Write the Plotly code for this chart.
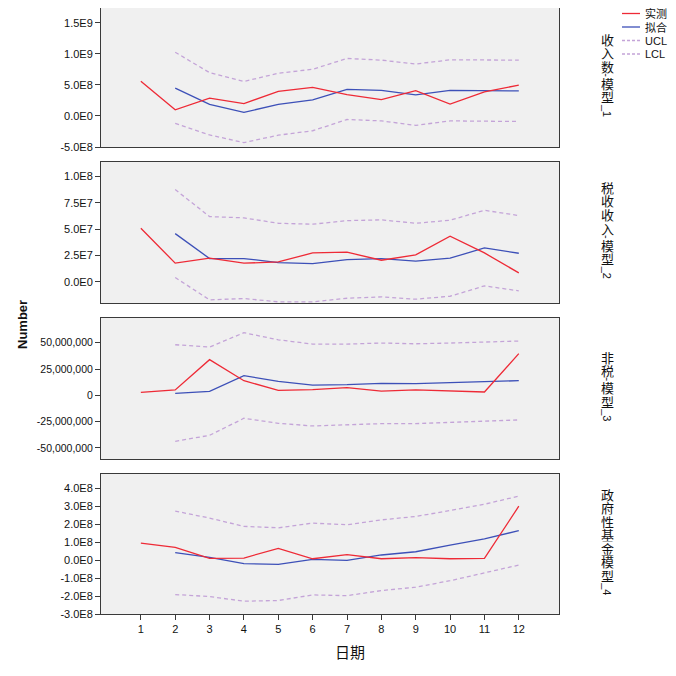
import plotly.graph_objects as go

# ---------------- data ----------------
dates = [1, 2, 3, 4, 5, 6, 7, 8, 9, 10, 11, 12]
dates_fit = [2, 3, 4, 5, 6, 7, 8, 9, 10, 11, 12]

m1_obs = [5.6e8, 1.0e8, 2.86e8, 2.0e8, 3.97e8, 4.6e8, 3.44e8, 2.65e8, 4.08e8, 1.9e8, 3.87e8, 4.98e8]
m1_fit = [4.5e8, 1.86e8, 0.59e8, 1.86e8, 2.6e8, 4.29e8, 4.13e8, 3.4e8, 4.13e8, 4.13e8, 4.03e8]
m1_ucl = [1.027e9, 6.98e8, 5.56e8, 6.89e8, 7.52e8, 9.27e8, 9.0e8, 8.37e8, 9.05e8, 9.05e8, 9.0e8]
m1_lcl = [-1.2e8, -3.06e8, -4.29e8, -3.1e8, -2.38e8, -0.57e8, -0.79e8, -1.52e8, -0.79e8, -0.79e8, -0.89e8]

m2_obs = [5.08e7, 1.77e7, 2.24e7, 1.77e7, 1.89e7, 2.74e7, 2.81e7, 2.05e7, 2.56e7, 4.32e7, 2.74e7, 0.85e7]
m2_fit = [4.57e7, 2.21e7, 2.21e7, 1.83e7, 1.73e7, 2.11e7, 2.21e7, 1.96e7, 2.24e7, 3.22e7, 2.71e7]
m2_ucl = [8.74e7, 6.18e7, 6.06e7, 5.55e7, 5.46e7, 5.8e7, 5.87e7, 5.55e7, 5.84e7, 6.78e7, 6.28e7]
m2_lcl = [0.41e7, -1.7e7, -1.58e7, -1.89e7, -1.89e7, -1.55e7, -1.42e7, -1.64e7, -1.36e7, -0.38e7, -0.85e7]

m3_obs = [2.85e6, 5.1e6, 3.39e7, 1.39e7, 4.7e6, 5.4e6, 7.3e6, 4.1e6, 5.1e6, 4.4e6, 3.2e6, 3.96e7]
m3_fit = [1.9e6, 3.8e6, 1.87e7, 1.33e7, 9.8e6, 1.01e7, 1.14e7, 1.11e7, 1.2e7, 1.27e7, 1.39e7]
m3_ucl = [4.81e7, 4.59e7, 5.95e7, 5.28e7, 4.87e7, 4.87e7, 4.97e7, 4.9e7, 4.97e7, 5.06e7, 5.16e7]
m3_lcl = [-4.37e7, -3.8e7, -2.18e7, -2.66e7, -2.91e7, -2.82e7, -2.69e7, -2.69e7, -2.56e7, -2.47e7, -2.34e7]

m4_obs = [0.94e8, 0.70e8, 0.09e8, 0.11e8, 0.65e8, 0.07e8, 0.3e8, 0.07e8, 0.13e8, 0.07e8, 0.09e8, 2.99e8]
m4_fit = [0.41e8, 0.15e8, -0.2e8, -0.24e8, 0.04e8, -0.02e8, 0.28e8, 0.46e8, 0.83e8, 1.18e8, 1.63e8]
m4_ucl = [2.72e8, 2.33e8, 1.87e8, 1.79e8, 2.05e8, 1.96e8, 2.23e8, 2.42e8, 2.75e8, 3.1e8, 3.55e8]
m4_lcl = [-1.92e8, -2.03e8, -2.29e8, -2.25e8, -1.94e8, -1.98e8, -1.7e8, -1.51e8, -1.15e8, -0.72e8, -0.28e8]

panel_titles = [
    ["收", "入", "数", "-", "模", "型", "_1"],
    ["税", "收", "收", "入", "-", "模", "型", "_2"],
    ["非", "税", "-", "模", "型", "_3"],
    ["政", "府", "性", "基", "金", "模", "型", "_4"],
]

tick_vals = [
    [1.5e9, 1.0e9, 5.0e8, 0.0, -5.0e8],
    [1.0e8, 7.5e7, 5.0e7, 2.5e7, 0.0],
    [5.0e7, 2.5e7, 0.0, -2.5e7, -5.0e7],
    [4.0e8, 3.0e8, 2.0e8, 1.0e8, 0.0, -1.0e8, -2.0e8, -3.0e8],
]
tick_text = [
    ["1.5E9", "1.0E9", "5.0E8", "0.0E0", "-5.0E8"],
    ["1.0E8", "7.5E7", "5.0E7", "2.5E7", "0.0E0"],
    ["50,000,000", "25,000,000", "0", "-25,000,000", "-50,000,000"],
    ["4.0E8", "3.0E8", "2.0E8", "1.0E8", "0.0E0", "-1.0E8", "-2.0E8", "-3.0E8"],
]
y_ranges = [[-5.0e8, 1.74e9], [-2.0e7, 1.135e8], [-6.05e7, 7.35e7], [-3.0e8, 4.78e8]]

legend_names = ["实测", "拟合", "UCL", "LCL"]

# ---------------- style ----------------
RED = "#ee2a36"
BLUE = "#3d50b8"
CL = "#c4a4d8"
FRAME = "#3a3a3a"
LATIN = "Liberation Sans, Arial, sans-serif"
CJK = "Noto Sans CJK SC, sans-serif"

# page has an 8px body margin; work in page pixels and convert
OFF = 8
W, H = 668, 668
ML, MT, MB = 101 - OFF, 0, 62
MR = W - (559 - OFF)
PW, PH = W - ML - MR, H - MT - MB

def py(pix):  # page pixel y -> paper y
    return (H - MB - (pix - OFF)) / PH

def px(pix):  # page pixel x -> paper x
    return (pix - OFF - ML) / PW

panel_pix = [(OFF, 147), (162, 303), (318, 459), (474, 614)]
title_top = [32.5, 181.5, 0, 491]

series = [
    (m1_obs, m1_fit, m1_ucl, m1_lcl),
    (m2_obs, m2_fit, m2_ucl, m2_lcl),
    (m3_obs, m3_fit, m3_ucl, m3_lcl),
    (m4_obs, m4_fit, m4_ucl, m4_lcl),
]

fig = go.Figure()
layout = {}
annotations = []
shapes = []

for i, (obs, fit, ucl, lcl) in enumerate(series):
    n = i + 1
    xa = "x" if n == 1 else f"x{n}"
    ya = "y" if n == 1 else f"y{n}"
    common = dict(xaxis=xa, yaxis=ya, mode="lines", showlegend=False, hoverinfo="skip")
    fig.add_trace(go.Scatter(x=dates_fit, y=ucl, line=dict(color=CL, width=1.3, dash="4px,3px"), **common))
    fig.add_trace(go.Scatter(x=dates_fit, y=lcl, line=dict(color=CL, width=1.3, dash="4px,3px"), **common))
    fig.add_trace(go.Scatter(x=dates_fit, y=fit, line=dict(color=BLUE, width=1.3), **common))
    fig.add_trace(go.Scatter(x=dates, y=obs, line=dict(color=RED, width=1.3), **common))

    top, bot = panel_pix[i]
    dom = [max(0.0, py(bot)), min(1.0, py(top))]
    xkey = "xaxis" if n == 1 else f"xaxis{n}"
    ykey = "yaxis" if n == 1 else f"yaxis{n}"
    last = (n == 4)
    layout[xkey] = dict(
        domain=[0, 1], anchor=ya, range=[-0.16, 13.17],
        tickmode="array", tickvals=dates, ticktext=[str(d) for d in dates],
        showticklabels=last, ticks="outside" if last else "", ticklen=5, tickcolor=FRAME,
        showgrid=False, zeroline=False, showline=True, mirror=True,
        linecolor=FRAME, linewidth=1, tickfont=dict(family=LATIN, size=11, color="#111"),
        matches=None if n == 1 else "x",
    )
    layout[ykey] = dict(
        domain=dom, anchor=xa, range=y_ranges[i],
        tickmode="array", tickvals=tick_vals[i], ticktext=tick_text[i],
        ticks="outside", ticklen=5, tickcolor=FRAME,
        showgrid=False, zeroline=False, showline=True, mirror=True,
        linecolor=FRAME, linewidth=1,
        tickfont=dict(family=LATIN, size=10.5 if n == 3 else 11, color="#111"),
    )

    # vertical panel title, one glyph per annotation, stacked top to bottom
    toks = panel_titles[i]
    sizes = [3.5 if t == "-" else (12.0 if t.startswith("_") else 13.5) for t in toks]
    total = sum(sizes)
    center = (top + bot) / 2 - 3
    cursor = center - total / 2
    for t, h in zip(toks, sizes):
        ymid = cursor + h / 2
        cursor += h
        latin = t.startswith("_") or t == "-"
        annotations.append(dict(
            xref="paper", yref="paper", x=px(607), y=py(ymid),
            text=t, showarrow=False, xanchor="center", yanchor="middle",
            textangle=90 if latin else 0, height=h if not latin else None,
            font=dict(family=LATIN if latin else CJK,
                      size=11 if latin else 13, color="#111"),
        ))

# axis titles
annotations.append(dict(xref="paper", yref="paper", x=px(23), y=py(325), text="<b>Number</b>",
                        textangle=-90, showarrow=False, xanchor="center", yanchor="middle",
                        font=dict(family=LATIN, size=13, color="#111")))
annotations.append(dict(xref="paper", yref="paper", x=px(350), y=py(651), text="日期",
                        showarrow=False, xanchor="center", yanchor="middle",
                        font=dict(family=CJK, size=15, color="#111")))

# manual legend
leg_y = [13.5, 27, 40.5, 54]
leg_col = [RED, BLUE, CL, CL]
leg_dash = ["solid", "solid", "3px,2px", "3px,2px"]
for name, yy, c, d in zip(legend_names, leg_y, leg_col, leg_dash):
    shapes.append(dict(type="line", xref="paper", yref="paper", x0=px(622), x1=px(640),
                       y0=py(yy), y1=py(yy), line=dict(color=c, width=1.3, dash=d)))
    annotations.append(dict(xref="paper", yref="paper", x=px(643), y=py(yy), text=name,
                            showarrow=False, xanchor="left", yanchor="middle",
                            font=dict(family=CJK if name in ("实测", "拟合") else LATIN,
                                      size=11, color="#111")))

fig.update_layout(
    width=W, height=H,
    margin=dict(l=ML, r=MR, t=MT, b=MB, pad=0),
    paper_bgcolor="white", plot_bgcolor="#f0f0f0",
    showlegend=False,
    annotations=annotations, shapes=shapes,
    **layout,
)

fig.write_html("out.html")
